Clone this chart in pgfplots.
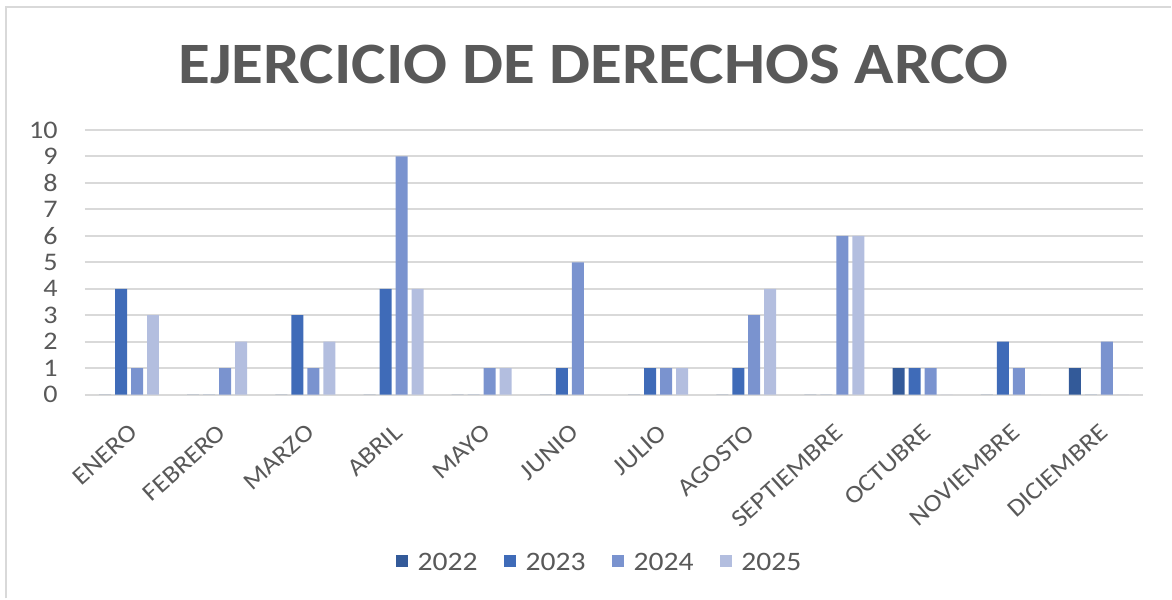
\documentclass[border=0pt]{standalone}
\usepackage{pgfplots}
\pgfplotsset{compat=1.18}
\usepackage{fontspec}
\setmainfont{Carlito}[FakeStretch=1.11]
\definecolor{c22}{HTML}{335A99}
\definecolor{c23}{HTML}{3F6BB8}
\definecolor{c24}{HTML}{7A93CF}
\definecolor{c25}{HTML}{B3BEDF}
\definecolor{gridgray}{HTML}{D9D9D9}
\definecolor{txtgray}{HTML}{595959}
\begin{document}
\begin{tikzpicture}
\path (0pt,0pt) rectangle (879pt,449.25pt);
\draw[color=gridgray, line width=1.5pt] (4.5pt,0pt) -- (4.5pt,444pt) -- (879pt,444pt);
\node[font=\bfseries\fontsize{44}{50}\selectfont, text=txtgray] at (445.5pt,400.5pt) {EJERCICIO DE DERECHOS ARCO};
\begin{axis}[
  at={(63.75pt,153pt)}, anchor=south west,
  scale only axis, width=794.25pt, height=198.75pt,
  ybar=3pt, bar width=9pt,
  xmin=-0.5, xmax=11.5, ymin=0, ymax=10,
  xtick={0,...,11},
  xticklabels={ENERO,FEBRERO,MARZO,ABRIL,MAYO,JUNIO,JULIO,AGOSTO,SEPTIEMBRE,OCTUBRE,NOVIEMBRE,DICIEMBRE},
  ytick={0,...,10},
  major tick length=0pt,
  axis line style={draw=none},
  ymajorgrids, grid style={color=gridgray, line width=1.5pt},
  /pgf/number format/assume math mode=true,
  x tick label style={rotate=42, anchor=north east, font=\fontsize{18.5}{20}\selectfont, text=txtgray, xshift=-11pt, yshift=-12pt},
  y tick label style={font=\fontsize{19}{21}\selectfont, text=txtgray, xshift=-17pt},
  legend style={at={(0.487,-0.634)}, anchor=center, draw=none, legend columns=4,
    font=\fontsize{20}{22}\selectfont, text=txtgray,
    /tikz/every odd column/.append style={column sep=5pt},
    /tikz/every even column/.append style={column sep=18pt}},
  legend image code/.code={\fill[#1] (0pt,-3.5pt) rectangle (9pt,5.5pt);},
]
\addplot[fill=c22, draw=none] coordinates {(0,0) (1,0) (2,0) (3,0) (4,0) (5,0) (6,0) (7,0) (8,0) (9,1) (10,0) (11,1)};
\addplot[fill=c23, draw=none] coordinates {(0,4) (1,0) (2,3) (3,4) (4,0) (5,1) (6,1) (7,1) (8,0) (9,1) (10,2) (11,0)};
\addplot[fill=c24, draw=none] coordinates {(0,1) (1,1) (2,1) (3,9) (4,1) (5,5) (6,1) (7,3) (8,6) (9,1) (10,1) (11,2)};
\addplot[fill=c25, draw=none] coordinates {(0,3) (1,2) (2,2) (3,4) (4,1) (5,0) (6,1) (7,4) (8,6) (9,0) (10,0) (11,0)};
\legend{2022,2023,2024,2025}
\end{axis}
\end{tikzpicture}
\end{document}
